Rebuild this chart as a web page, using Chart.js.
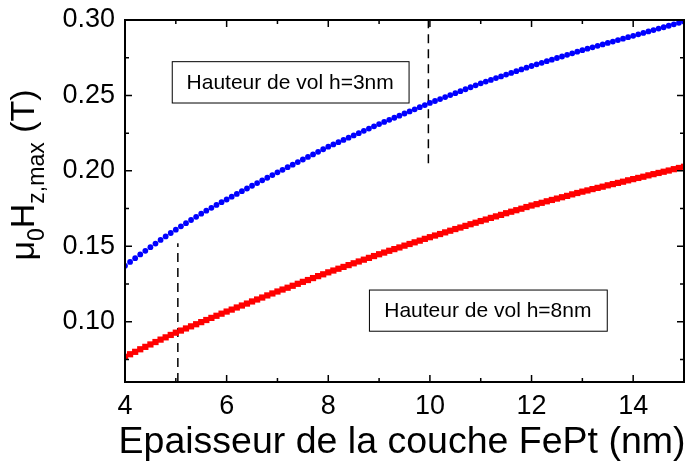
<!DOCTYPE html>
<html>
<head>
<meta charset="utf-8">
<script src="https://cdn.jsdelivr.net/npm/chart.js@4.4.0/dist/chart.umd.min.js"></script>
<style>
  html, body { margin: 0; padding: 0; background: #fff; }
  #wrap { width: 691px; height: 466px; }
</style>
</head>
<body>
<div id="wrap"><canvas id="fieldChart" width="691" height="466"></canvas></div>
<script>
// FePt layer thickness (nm)
const thickness = [
  4.0, 4.1, 4.2, 4.3, 4.4, 4.5, 4.6, 4.7, 4.8, 4.9,
  5.0, 5.1, 5.2, 5.3, 5.4, 5.5, 5.6, 5.7, 5.8, 5.9,
  6.0, 6.1, 6.2, 6.3, 6.4, 6.5, 6.6, 6.7, 6.8, 6.9,
  7.0, 7.1, 7.2, 7.3, 7.4, 7.5, 7.6, 7.7, 7.8, 7.9,
  8.0, 8.1, 8.2, 8.3, 8.4, 8.5, 8.6, 8.7, 8.8, 8.9,
  9.0, 9.1, 9.2, 9.3, 9.4, 9.5, 9.6, 9.7, 9.8, 9.9,
  10.0, 10.1, 10.2, 10.3, 10.4, 10.5, 10.6, 10.7, 10.8, 10.9,
  11.0, 11.1, 11.2, 11.3, 11.4, 11.5, 11.6, 11.7, 11.8, 11.9,
  12.0, 12.1, 12.2, 12.3, 12.4, 12.5, 12.6, 12.7, 12.8, 12.9,
  13.0, 13.1, 13.2, 13.3, 13.4, 13.5, 13.6, 13.7, 13.8, 13.9,
  14.0, 14.1, 14.2, 14.3, 14.4, 14.5, 14.6, 14.7, 14.8, 14.9,
  15.0
];

// mu0 Hz,max (T) for fly height h = 3 nm (blue dots)
const fieldH3 = [
  0.1370, 0.1396, 0.1421, 0.1446, 0.1470, 0.1494, 0.1518, 0.1542, 0.1565, 0.1588,
  0.1610, 0.1632, 0.1653, 0.1674, 0.1695, 0.1716, 0.1736, 0.1755, 0.1774, 0.1792,
  0.1810, 0.1829, 0.1847, 0.1865, 0.1883, 0.1901, 0.1919, 0.1937, 0.1954, 0.1972,
  0.1990, 0.2007, 0.2024, 0.2041, 0.2058, 0.2075, 0.2092, 0.2109, 0.2126, 0.2143,
  0.2160, 0.2175, 0.2190, 0.2205, 0.2220, 0.2235, 0.2250, 0.2265, 0.2280, 0.2295,
  0.2310, 0.2324, 0.2338, 0.2352, 0.2366, 0.2380, 0.2394, 0.2408, 0.2422, 0.2436,
  0.2450, 0.2463, 0.2476, 0.2489, 0.2502, 0.2515, 0.2528, 0.2541, 0.2554, 0.2567,
  0.2580, 0.2592, 0.2603, 0.2615, 0.2626, 0.2638, 0.2649, 0.2661, 0.2672, 0.2684,
  0.2695, 0.2706, 0.2716, 0.2727, 0.2737, 0.2748, 0.2758, 0.2769, 0.2779, 0.2790,
  0.2800, 0.2810, 0.2819, 0.2829, 0.2838, 0.2848, 0.2857, 0.2867, 0.2876, 0.2886,
  0.2895, 0.2905, 0.2914, 0.2924, 0.2933, 0.2943, 0.2952, 0.2962, 0.2971, 0.2981,
  0.2990
];

// mu0 Hz,max (T) for fly height h = 8 nm (red squares)
const fieldH8 = [
  0.0767, 0.0784, 0.0800, 0.0817, 0.0833, 0.0849, 0.0865, 0.0881, 0.0896, 0.0912,
  0.0927, 0.0941, 0.0955, 0.0969, 0.0983, 0.0997, 0.1011, 0.1025, 0.1039, 0.1053,
  0.1067, 0.1080, 0.1094, 0.1107, 0.1120, 0.1134, 0.1147, 0.1160, 0.1174, 0.1187,
  0.1200, 0.1213, 0.1225, 0.1238, 0.1251, 0.1264, 0.1276, 0.1289, 0.1302, 0.1314,
  0.1327, 0.1339, 0.1351, 0.1363, 0.1375, 0.1387, 0.1399, 0.1411, 0.1423, 0.1435,
  0.1447, 0.1458, 0.1470, 0.1481, 0.1492, 0.1504, 0.1515, 0.1526, 0.1537, 0.1549,
  0.1560, 0.1571, 0.1581, 0.1592, 0.1603, 0.1614, 0.1624, 0.1635, 0.1646, 0.1656,
  0.1667, 0.1677, 0.1688, 0.1698, 0.1708, 0.1719, 0.1729, 0.1739, 0.1749, 0.1760,
  0.1770, 0.1779, 0.1788, 0.1798, 0.1807, 0.1816, 0.1825, 0.1834, 0.1844, 0.1853,
  0.1862, 0.1870, 0.1879, 0.1887, 0.1895, 0.1904, 0.1912, 0.1920, 0.1928, 0.1937,
  0.1945, 0.1953, 0.1961, 0.1970, 0.1978, 0.1986, 0.1994, 0.2002, 0.2011, 0.2019,
  0.2027
];

// dashed marker lines [x, yFrom, yTo]
const markerH8 = [5.04, 0.06, 0.152];
const markerH3 = [9.97, 0.205, 0.30];

const xTicks = [4, 6, 8, 10, 12, 14];
const xMinor = [5, 7, 9, 11, 13, 15];
const yTicks = [0.10, 0.15, 0.20, 0.25, 0.30];
const yMinor = [0.075, 0.125, 0.175, 0.225, 0.275];

const labelH3 = 'Hauteur de vol h=3nm';
const labelH8 = 'Hauteur de vol h=8nm';

const FONT = 'Liberation Sans, Arial, Helvetica, sans-serif';

const toPoints = (xs, ys) => xs.map((x, i) => ({ x: x, y: ys[i] }));

// frame, inward ticks, label boxes and y title
const decorPlugin = {
  id: 'decor',
  afterDraw(chart) {
    const ctx = chart.ctx;
    const a = chart.chartArea;
    const xs = chart.scales.x;
    const ys = chart.scales.y;
    ctx.save();
    ctx.strokeStyle = '#000';
    ctx.lineWidth = 2;
    ctx.strokeRect(a.left, a.top, a.right - a.left, a.bottom - a.top);

    ctx.lineWidth = 1.5;
    ctx.beginPath();
    const tickX = (v, len) => {
      const px = xs.getPixelForValue(v);
      ctx.moveTo(px, a.bottom); ctx.lineTo(px, a.bottom - len);
      ctx.moveTo(px, a.top); ctx.lineTo(px, a.top + len);
    };
    const tickY = (v, len) => {
      const py = ys.getPixelForValue(v);
      ctx.moveTo(a.left, py); ctx.lineTo(a.left + len, py);
      ctx.moveTo(a.right, py); ctx.lineTo(a.right - len, py);
    };
    xTicks.forEach(v => tickX(v, 7));
    xMinor.forEach(v => tickX(v, 4));
    yTicks.forEach(v => tickY(v, 7));
    yMinor.forEach(v => tickY(v, 4));
    ctx.stroke();

    // label boxes
    const box = (text, x0, y0, x1, y1) => {
      ctx.fillStyle = '#fff';
      ctx.fillRect(x0, y0, x1 - x0, y1 - y0);
      ctx.lineWidth = 1;
      ctx.strokeStyle = '#000';
      ctx.strokeRect(x0 + 0.5, y0 + 0.5, x1 - x0, y1 - y0);
      ctx.fillStyle = '#000';
      ctx.font = '21px ' + FONT;
      ctx.textAlign = 'center';
      ctx.textBaseline = 'middle';
      ctx.fillText(text, (x0 + x1) / 2, (y0 + y1) / 2 + 1);
    };
    box(labelH3, xs.getPixelForValue(4.92), ys.getPixelForValue(0.2727),
        xs.getPixelForValue(9.58), ys.getPixelForValue(0.2453));
    box(labelH8, xs.getPixelForValue(8.8), ys.getPixelForValue(0.1213),
        xs.getPixelForValue(13.48), ys.getPixelForValue(0.094));

    // x title
    ctx.fillStyle = '#000';
    ctx.textAlign = 'center';
    ctx.textBaseline = 'alphabetic';
    ctx.font = '37.5px ' + FONT;
    ctx.fillText('Epaisseur de la couche FePt (nm)', 402, 453);

    // y title with subscripts, rotated
    const big = '34px ' + FONT;
    const small = '23px ' + FONT;
    const parts = [
      ['\u03bc', big, 0], ['0', small, 10], ['H', big, 0],
      ['z,max', small, 10], [' (T)', big, 0]
    ];
    let total = 0;
    parts.forEach(p => { ctx.font = p[1]; total += ctx.measureText(p[0]).width; });
    ctx.translate(34, 175);
    ctx.rotate(-Math.PI / 2);
    ctx.textAlign = 'left';
    let cx = -total / 2;
    parts.forEach(p => {
      ctx.font = p[1];
      ctx.fillText(p[0], cx, p[2]);
      cx += ctx.measureText(p[0]).width;
    });
    ctx.restore();
  }
};

new Chart(document.getElementById('fieldChart').getContext('2d'), {
  type: 'scatter',
  data: {
    datasets: [
      {
        label: 'h=8nm',
        data: toPoints(thickness, fieldH8),
        pointStyle: 'rect',
        pointRadius: 4.4,
        backgroundColor: '#ff0000',
        borderWidth: 0
      },
      {
        label: 'h=3nm',
        data: toPoints(thickness, fieldH3),
        pointStyle: 'circle',
        pointRadius: 2.9,
        backgroundColor: '#0000ff',
        borderWidth: 0
      },
      {
        label: 'marker 5nm',
        data: [{ x: markerH8[0], y: markerH8[1] }, { x: markerH8[0], y: markerH8[2] }],
        showLine: true,
        pointRadius: 0,
        borderColor: '#000',
        borderWidth: 1.5,
        borderDash: [9, 6]
      },
      {
        label: 'marker 10nm',
        data: [{ x: markerH3[0], y: markerH3[1] }, { x: markerH3[0], y: markerH3[2] }],
        showLine: true,
        pointRadius: 0,
        borderColor: '#000',
        borderWidth: 1.5,
        borderDash: [9, 6]
      }
    ]
  },
  options: {
    responsive: false,
    animation: false,
    layout: { padding: { left: 0, right: 7, top: 20, bottom: 0 } },
    plugins: {
      legend: { display: false },
      tooltip: { enabled: false }
    },
    scales: {
      x: {
        type: 'linear',
        min: 4,
        max: 15,
        grid: { display: false, drawTicks: false },
        border: { display: false },
        afterBuildTicks: s => { s.ticks = xTicks.map(v => ({ value: v })); },
        afterFit: s => { s.height = 84; s.paddingLeft = 0; s.paddingRight = 0; },
        ticks: {
          color: '#000',
          font: { family: FONT, size: 27 },
          padding: 8,
          maxRotation: 0,
          callback: v => String(v)
        }
      },
      y: {
        min: 0.06,
        max: 0.30,
        grid: { display: false, drawTicks: false },
        border: { display: false },
        afterBuildTicks: s => { s.ticks = yTicks.map(v => ({ value: v })); },
        afterFit: s => { s.width = 125; s.paddingTop = 0; s.paddingBottom = 0; },
        ticks: {
          color: '#000',
          font: { family: FONT, size: 27 },
          padding: 10,
          callback: v => v.toFixed(2)
        }
      }
    }
  },
  plugins: [decorPlugin]
});
</script>
</body>
</html>
